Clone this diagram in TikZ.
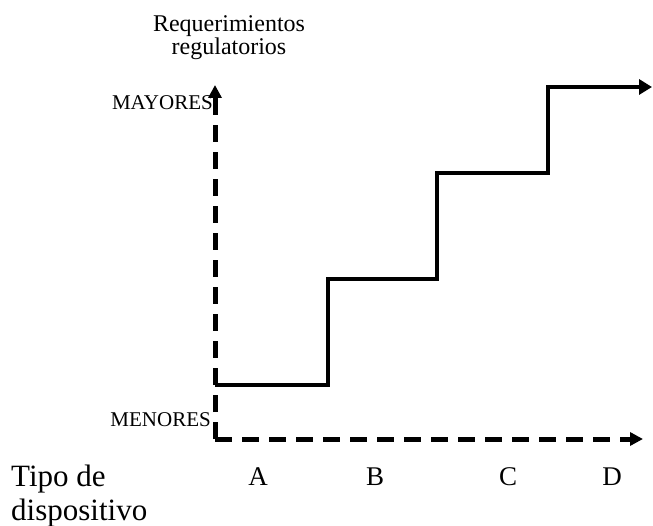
\documentclass[tikz,border=0pt]{standalone}
\usepackage{fontspec}
\setmainfont{Liberation Serif}
\usepackage{tikz}
\usetikzlibrary{arrows.meta,arrows}

\begin{document}
\begin{tikzpicture}[x=1pt,y=-1pt,
    axisline/.style={line width=5pt, dash pattern=on 17pt off 10pt,
        -{Triangle[length=13pt,width=13pt]}},
    stepline/.style={line width=4pt, -{Triangle[length=13pt,width=15pt]}},
    levellabel/.style={font=\fontsize{21}{24}\selectfont, inner sep=0pt, anchor=east},
    devlabel/.style={font=\fontsize{27}{30}\selectfont, inner sep=0pt}
]
\useasboundingbox (0,0) rectangle (653,526);

% axes
\coordinate (origin) at (215,439);
\coordinate (ytop) at (215,85);
\coordinate (xend) at (643,439);
\draw[axisline] (origin) -- (ytop);
\draw[axisline] (origin) -- (xend);

% step curve
\coordinate (s0) at (215,385);
\coordinate (s1) at (328,385);
\coordinate (s2) at (328,279);
\coordinate (s3) at (437,279);
\coordinate (s4) at (437,173);
\coordinate (s5) at (548,173);
\coordinate (s6) at (548,87);
\coordinate (s7) at (652,87);
\draw[stepline] (s0) -- (s1) -- (s2) -- (s3) -- (s4) -- (s5) -- (s6) -- (s7);

% labels
\node[font=\fontsize{24}{19}\selectfont, align=center, inner sep=0pt] (reqlabel) at (229,38)
    {Requerimientos\\regulatorios};
\node[levellabel] (mayores) at (213,103) {MAYORES};
\node[levellabel] (menores) at (211,420) {MENORES};
\node[font=\fontsize{31}{34}\selectfont, align=left, inner sep=0pt, anchor=west] (tipolabel) at (11,496)
    {Tipo de\\dispositivo};
\foreach \l/\x in {A/258,B/375,C/508,D/612}
    \node[devlabel] (dev\l) at (\x,477) {\l};
\end{tikzpicture}
\end{document}
